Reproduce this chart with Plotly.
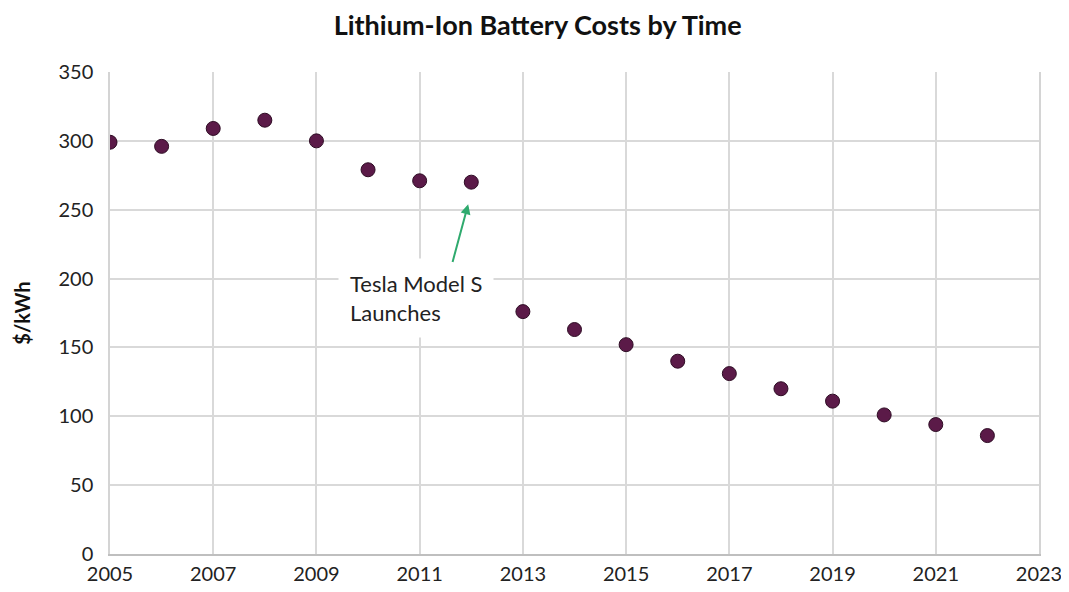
import plotly.graph_objects as go

years = [2005, 2006, 2007, 2008, 2009, 2010, 2011, 2012, 2013,
         2014, 2015, 2016, 2017, 2018, 2019, 2020, 2021, 2022]
cost_per_kwh = [299, 296, 309, 315, 300, 279, 271, 270, 176,
                163, 152, 140, 131, 120, 111, 101, 94, 86]

x_ticks = [2005, 2007, 2009, 2011, 2013, 2015, 2017, 2019, 2021, 2023]
y_ticks = [0, 50, 100, 150, 200, 250, 300, 350]

font_family = "Lato, 'Open Sans', sans-serif"

fig = go.Figure()

fig.add_trace(
    go.Scatter(
        x=years,
        y=cost_per_kwh,
        mode="markers",
        marker=dict(
            size=14,
            color="#5b1a48",
            line=dict(color="#2e0c24", width=1),
        ),
        showlegend=False,
    )
)

# Tesla callout: label box and arrow
fig.add_annotation(
    x=2009.42,
    y=186,
    xref="x",
    yref="y",
    text="Tesla Model S<br>Launches",
    showarrow=False,
    xanchor="left",
    yanchor="middle",
    align="left",
    bgcolor="white",
    borderpad=11,
    font=dict(family=font_family, size=22, color="#222222"),
)

fig.add_annotation(
    x=2011.94,
    y=254,
    ax=2011.63,
    ay=211,
    xref="x",
    yref="y",
    axref="x",
    ayref="y",
    text="",
    showarrow=True,
    arrowhead=2,
    arrowsize=1,
    arrowwidth=2,
    arrowcolor="#2faa6e",
)

# the page body adds an 8px margin, so the figure is sized to fit inside the window
fig.update_layout(
    width=1053,
    height=576,
    margin=dict(l=102, r=22, t=64, b=30),
    paper_bgcolor="white",
    plot_bgcolor="white",
    title=dict(
        text="<b>Lithium-Ion Battery Costs by Time</b>",
        x=0.503,
        xanchor="center",
        y=0.97,
        yanchor="middle",
        font=dict(family=font_family, size=27, color="#111111"),
    ),
    font=dict(family=font_family, size=20, color="#222222"),
)

fig.update_xaxes(
    range=[2005, 2023],
    tickvals=x_ticks,
    ticktext=[str(v) for v in x_ticks],
    showgrid=True,
    gridcolor="#d9d9d9",
    gridwidth=1.5,
    showline=True,
    linecolor="#bfbfbf",
    linewidth=1.5,
    mirror=False,
    zeroline=False,
    ticks="",
    ticklabelstandoff=1,
    ticklabeloverflow="allow",
    automargin=False,
)

fig.update_yaxes(
    range=[0, 350],
    tickvals=y_ticks,
    showgrid=True,
    gridcolor="#d9d9d9",
    gridwidth=1.5,
    showline=True,
    linecolor="#d4d4d4",
    linewidth=1.5,
    mirror=True,
    zeroline=False,
    ticks="",
    ticklabelstandoff=11,
    automargin=False,
    title=dict(
        text="<b>$/kWh</b>",
        font=dict(family=font_family, size=20, color="#111111"),
        standoff=22,
    ),
)

fig.write_html("out.html")
